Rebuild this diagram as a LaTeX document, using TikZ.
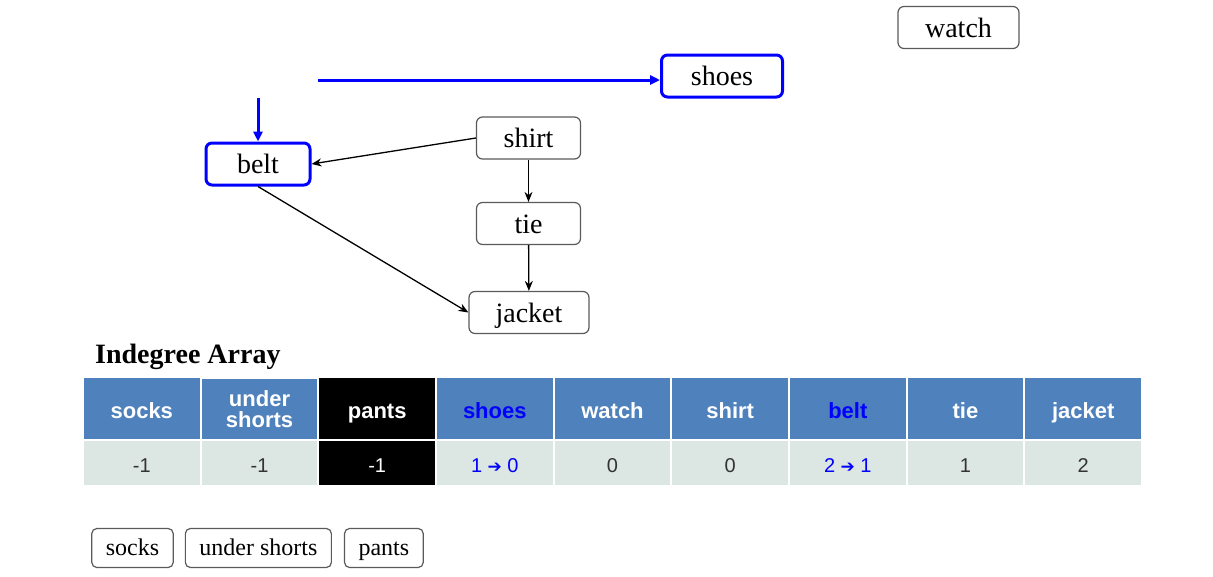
\documentclass[tikz,border=0pt]{standalone}
\usepackage{fontspec}
\setmainfont{Liberation Serif}
\newfontfamily\cellfont{Liberation Sans}
\newfontfamily\symfont{DejaVu Sans}
\usetikzlibrary{positioning,arrows.meta}
\definecolor{hdrblue}{HTML}{4F81BD}
\definecolor{cellgray}{HTML}{DCE6E3}
\definecolor{boxgray}{HTML}{5A5A5A}
\newcommand{\goesto}{{\symfont\fontsize{17}{17}\selectfont ➔}}

\begin{document}
\begin{tikzpicture}[x=1pt, y=-1pt,
    item/.style={draw=boxgray, line width=1.2pt, rounded corners=6pt, minimum width=104pt, minimum height=42pt, inner xsep=20pt, text height=22pt, text depth=3pt, font=\fontsize{28}{28}\selectfont},
    visit/.style={item, draw=blue, line width=3pt},
    done/.style={draw=boxgray, line width=1.2pt, rounded corners=5pt, minimum height=39pt, inner xsep=14pt, text height=18pt, text depth=3pt, font=\fontsize{24}{24}\selectfont},
    hdr/.style={fill=hdrblue, draw=white, line width=2pt, minimum width=117.7pt, minimum height=63pt, inner sep=0pt, align=center, text=white, text height=20pt, text depth=0pt, font=\cellfont\bfseries\fontsize{22}{21}\selectfont},
    val/.style={fill=cellgray, draw=white, line width=2pt, minimum width=117.7pt, minimum height=46pt, inner sep=0pt, text=black!80, text height=18pt, text depth=0pt, font=\cellfont\fontsize{20}{20}\selectfont},
    link/.style={-{Stealth[length=10pt,width=8pt]}, line width=1.3pt},
    visitlink/.style={-{Triangle[length=10pt,width=9pt]}, line width=3pt, blue}]
    \useasboundingbox (0,0) rectangle (1213,576);
    \node[item, minimum width=121pt] (watch) at (958.5,27.5) {watch};
    \node[visit, minimum width=121pt] (shoes) at (722,76) {shoes};
    \node[visit] (belt) at (258,164) {belt};
    \node[item] (shirt) at (528.5,138) {shirt};
    \node[item] (tie) at (528.5,223.5) {tie};
    \node[item, minimum width=120pt] (jacket) at (529,312.5) {jacket};
    \coordinate (shoesin) at (318,80);
    \coordinate (beltin) at (258,98);
    \draw[visitlink] (shoesin) -- (shoesin -| shoes.west);
    \draw[visitlink] (beltin) -- (belt.north);
    \draw[link] (shirt.west) -- (belt.east);
    \draw[link] (shirt) -- (tie);
    \draw[link] (tie) -- (jacket);
    \draw[link] (belt.south) -- (jacket.west);
    \node[anchor=base west, inner sep=0pt, font=\bfseries\fontsize{28}{28}\selectfont] (title) at (95,363) {Indegree Array};
    \node[hdr] (hsocks) at (141.8,408.5) {socks};
    \node[hdr, text height=, text depth=] (hunder) at (259.5,409.5) {under\\shorts};
    \node[hdr, fill=black] (hpants) at (377.2,408.5) {pants};
    \node[hdr, text=blue] (hshoes) at (494.8,408.5) {shoes};
    \node[hdr] (hwatch) at (612.5,408.5) {watch};
    \node[hdr] (hshirt) at (730.2,408.5) {shirt};
    \node[hdr, text=blue] (hbelt) at (847.8,408.5) {belt};
    \node[hdr] (htie) at (965.5,408.5) {tie};
    \node[hdr] (hjacket) at (1083.2,408.5) {jacket};
    \node[val] (vsocks) at (141.8,463) {-1};
    \node[val] (vunder) at (259.5,463) {-1};
    \node[val, fill=black, text=white] (vpants) at (377.2,463) {-1};
    \node[val, text=blue] (vshoes) at (494.8,463) {1 \goesto{} 0};
    \node[val] (vwatch) at (612.5,463) {0};
    \node[val] (vshirt) at (730.2,463) {0};
    \node[val, text=blue] (vbelt) at (847.8,463) {2 \goesto{} 1};
    \node[val] (vtie) at (965.5,463) {1};
    \node[val] (vjacket) at (1083.2,463) {2};
    \node[done] (socks) at (132.5,548) {socks};
    \node[done, right=11pt of socks] (under) {under shorts};
    \node[done, right=12pt of under] (pants) {pants};
\end{tikzpicture}
\end{document}
